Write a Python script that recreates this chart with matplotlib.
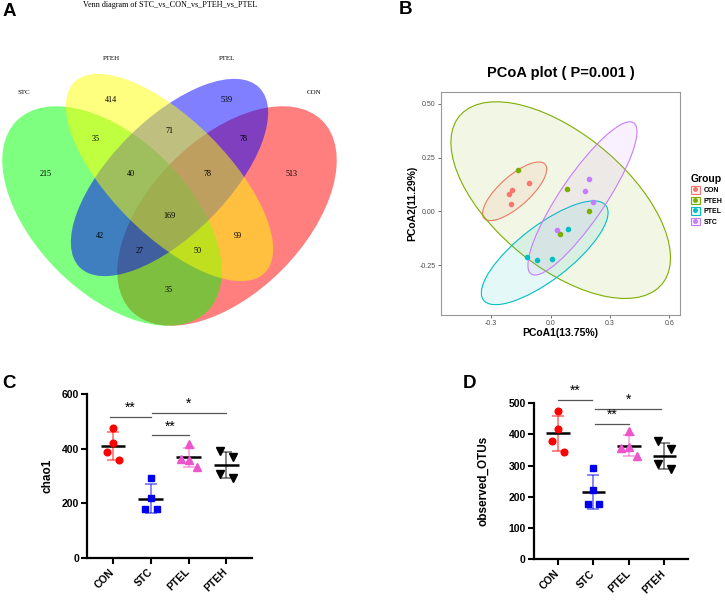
import numpy as np
import matplotlib
matplotlib.use("Agg")
import matplotlib.pyplot as plt
from matplotlib.patches import Ellipse, Patch
from matplotlib.lines import Line2D
from matplotlib.legend_handler import HandlerTuple
from matplotlib.colors import to_rgba

plt.rcParams['font.family'] = ['Liberation Sans', 'DejaVu Sans']

W, H = 725, 601

# ---------------- data ----------------
# A: Venn
venn_sets = ["STC", "PTEH", "PTEL", "CON"]
venn_colors = ["#00FF00", "#FFFF00", "#0000FF", "#FF0000"]
venn_regions = ["STC", "PTEH", "PTEL", "CON",
                "STC&PTEH", "PTEH&PTEL", "PTEL&CON",
                "STC&PTEH&PTEL", "PTEH&PTEL&CON", "STC&PTEH&PTEL&CON",
                "STC&PTEL", "PTEH&CON", "STC&PTEL&CON", "STC&PTEH&CON", "STC&CON"]
venn_counts = [215, 414, 539, 513, 35, 71, 78, 40, 78, 169, 42, 99, 27, 50, 35]

# B: PCoA
pcoa_groups = ["CON", "PTEH", "PTEL", "STC"]
pcoa_colors = ["#F8766D", "#7CAE00", "#00BFC4", "#C77CFF"]
pc1_con = [-0.108, -0.194, -0.209, -0.202]
pc2_con = [0.130, 0.099, 0.082, 0.034]
pc1_pteh = [-0.166, 0.085, 0.193, 0.046]
pc2_pteh = [0.192, 0.104, 0.000, -0.107]
pc1_ptel = [0.086, -0.121, -0.070, 0.007]
pc2_ptel = [-0.082, -0.213, -0.228, -0.220]
pc1_stc = [0.194, 0.174, 0.213, 0.034]
pc2_stc = [0.149, 0.096, 0.045, -0.086]
# 95% ellipses: centre x, centre y, semi-axis a, semi-axis b, angle
ell_cx = [-0.182, 0.051, -0.030, 0.161]
ell_cy = [0.093, 0.052, -0.193, 0.060]
ell_a = [0.199, 0.645, 0.380, 0.437]
ell_b = [0.073, 0.319, 0.129, 0.111]
ell_ang = [38.5, -35.8, 34.8, 53.3]

# C / D: alpha diversity
alpha_groups = ["CON", "STC", "PTEL", "PTEH"]
alpha_colors = ["#FF0000", "#0000EE", "#EE55CC", "#000000"]
alpha_markers = ["o", "s", "^", "v"]
chao1_con = [477, 423, 389, 357]
chao1_stc = [292, 221, 178, 178]
chao1_ptel = [418, 364, 358, 332]
chao1_pteh = [390, 368, 308, 292]
otus_con = [473, 418, 380, 343]
otus_stc = [292, 221, 176, 176]
otus_ptel = [410, 355, 360, 329]
otus_pteh = [380, 352, 305, 289]
sig_text = ["**", "*", "**"]
chao1_sig_x = [(-0.09, 1.0), (1.02, 3.0), (1.02, 2.01)]
chao1_sig_y = [516, 531, 449]
otus_sig_x = [(0.0, 0.96), (1.05, 2.91), (1.05, 2.01)]
otus_sig_y = [511, 481, 433]

jitter = [[0, 0, -0.16, 0.16], [0, 0, -0.16, 0.16],
          [0, -0.21, 0, 0.22], [-0.18, 0.18, -0.18, 0.18]]


def fx(px):
    return px / W


def fy(py):
    return 1 - py / H


fig = plt.figure(figsize=(7.25, 6.01), dpi=100)

# ---------------- A ----------------
ax_a = fig.add_axes([0, 1 - 330 / H, 345 / W, 330 / H])
ax_a.set_xlim(0, 345)
ax_a.set_ylim(330, 0)
ax_a.axis('off')

venn_shapes = {"STC": (112, 216, 269.5, 154, 45),
               "PTEH": (169.5, 177.5, 269.5, 115.5, 45),
               "PTEL": (169.5, 177.5, 254, 115.5, -45),
               "CON": (227, 216, 269.5, 154, -45)}
for name in ["CON", "STC", "PTEL", "PTEH"]:
    cx, cy, w, h, ang = venn_shapes[name]
    col = venn_colors[venn_sets.index(name)]
    ax_a.add_patch(Ellipse((cx, cy), w, h, angle=ang, facecolor=col,
                           alpha=0.5, edgecolor='none'))

region_xy = [(46, 174), (111, 100), (227, 100), (292, 174),
             (96, 139), (169, 131), (243, 139),
             (131, 174), (208, 174), (169, 216),
             (100, 236), (238, 236), (140, 251), (198, 251), (169, 290)]
for (x, y), n in zip(region_xy, venn_counts):
    ax_a.text(x, y, str(n), ha='center', va='center', fontsize=5.9,
              family='Liberation Serif')
set_label_xy = [(24, 92), (111, 58), (227, 58), (314, 92)]
for (x, y), s in zip(set_label_xy, venn_sets):
    ax_a.text(x, y, s, ha='center', va='center', fontsize=5,
              family='Liberation Serif')
ax_a.text(170, 5, "Venn diagram of STC_vs_CON_vs_PTEH_vs_PTEL", ha='center',
          va='center', fontsize=5.9, family='Liberation Serif')

# ---------------- B ----------------
ax_b = fig.add_axes([fx(440.7), fy(314.7), 239.6 / W, 222.7 / H])
pc1 = [pc1_con, pc1_pteh, pc1_ptel, pc1_stc]
pc2 = [pc2_con, pc2_pteh, pc2_ptel, pc2_stc]
for i, g in enumerate(pcoa_groups):
    c = pcoa_colors[i]
    ax_b.add_patch(Ellipse((ell_cx[i], ell_cy[i]), 2 * ell_a[i], 2 * ell_b[i],
                           angle=ell_ang[i], facecolor=to_rgba(c, 0.1),
                           edgecolor=c, lw=0.8))
for i, g in enumerate(pcoa_groups):
    ax_b.plot(pc1[i], pc2[i], ls='', marker='o', ms=3, color=pcoa_colors[i],
              zorder=5)
ax_b.set_xlim(-0.556, 0.656)
ax_b.set_ylim(-0.481, 0.555)
ax_b.set_xticks([-0.3, 0.0, 0.3, 0.6])
ax_b.set_xticklabels(["-0.3", "0.0", "0.3", "0.6"])
ax_b.set_yticks([-0.25, 0.0, 0.25, 0.5])
ax_b.set_yticklabels(["-0.25", "0.00", "0.25", "0.50"])
ax_b.tick_params(labelsize=5, length=2, width=0.5, colors='#333333',
                 labelcolor='#4D4D4D', pad=1.5)
for sp in ax_b.spines.values():
    sp.set_color('#999999')
    sp.set_linewidth(0.8)
ax_b.set_xlabel("PCoA1(13.75%)", fontsize=7.5, fontweight='bold', labelpad=1)
ax_b.set_ylabel("PCoA2(11.29%)", fontsize=7.5, fontweight='bold', labelpad=2)
ax_b.set_title("PCoA plot ( P=0.001 )", fontsize=10.5, fontweight='bold', pad=11)

handles = [(Patch(facecolor=to_rgba(c, 0.1), edgecolor=c, lw=0.8),
            Line2D([], [], ls='', marker='o', ms=2.5, color=c)) for c in pcoa_colors]
leg = fig.legend(handles, pcoa_groups, handler_map={tuple: HandlerTuple(ndivide=1, pad=0)},
                 loc='upper left', bbox_to_anchor=(fx(688), fy(171)),
                 frameon=False, fontsize=5, title="Group",
                 title_fontproperties={'weight': 'bold', 'size': 7.5},
                 handlelength=1.3, handleheight=1.3, labelspacing=0.35,
                 handletextpad=0.6, borderaxespad=0, alignment='left')
for t in leg.get_texts():
    t.set_fontweight('bold')


# ---------------- C / D ----------------
marker_size = [4.8, 4.4, 5.2, 5.2]


def dot_panel(ax, values, ylabel, ymax, ystep, sig_x, sig_y, lpad):
    for i, vals in enumerate(values):
        c = alpha_colors[i]
        xs = i + np.array(jitter[i])
        m = np.mean(vals)
        sd = np.std(vals, ddof=1)
        ax.errorbar(i, m, yerr=sd, color=to_rgba(c, 0.55), capsize=4.5,
                    lw=1.2, capthick=1.2, zorder=2)
        ax.hlines(m, i - 0.33, i + 0.33, color='black', lw=1.8, zorder=3)
        ax.plot(xs, vals, ls='', marker=alpha_markers[i], ms=marker_size[i],
                color=c, zorder=4)
    for (x1, x2), y, t in zip(sig_x, sig_y, sig_text):
        ax.plot([x1, x2], [y, y], color='#555555', lw=0.9, clip_on=False)
        ax.annotate(t, ((x1 + x2) / 2, y), xytext=(0, 1.5),
                    textcoords='offset points', ha='center', va='bottom',
                    fontsize=10, annotation_clip=False)
    ax.set_xlim(-0.68, 3.68)
    ax.set_ylim(0, ymax)
    ax.set_yticks(np.arange(0, ymax + 1, ystep))
    ax.set_xticks(range(len(alpha_groups)))
    ax.set_xticklabels(alpha_groups, rotation=45, ha='right', va='center',
                       rotation_mode='anchor')
    for lab in ax.get_xticklabels() + ax.get_yticklabels():
        lab.set_fontweight('bold')
    ax.tick_params(labelsize=7.5, length=4, width=1.5, direction='out', pad=2)
    ax.tick_params(axis='x', pad=5)
    ax.spines['top'].set_visible(False)
    ax.spines['right'].set_visible(False)
    ax.spines['left'].set_linewidth(1.6)
    ax.spines['bottom'].set_linewidth(1.6)
    ax.set_ylabel(ylabel, fontsize=8.5, fontweight='bold', labelpad=lpad)


ax_c = fig.add_axes([fx(87.3), fy(557.7), (252 - 87.3) / W, (557.7 - 394.3) / H])
dot_panel(ax_c, [chao1_con, chao1_stc, chao1_ptel, chao1_pteh], "chao1", 600, 200,
          chao1_sig_x, chao1_sig_y, 6)

ax_d = fig.add_axes([fx(534), fy(559.3), (688.3 - 534) / W, (559.3 - 403) / H])
dot_panel(ax_d, [otus_con, otus_stc, otus_ptel, otus_pteh], "observed_OTUs", 500, 100,
          otus_sig_x, otus_sig_y, 14)

# panel letters
for lab, x, y in [("A", 9, 11), ("B", 405, 10), ("C", 9, 383), ("D", 469, 384)]:
    fig.text(fx(x), fy(y), lab, fontsize=13.5, fontweight='bold', ha='center',
             va='center')

fig.savefig("out.png", dpi=100)
